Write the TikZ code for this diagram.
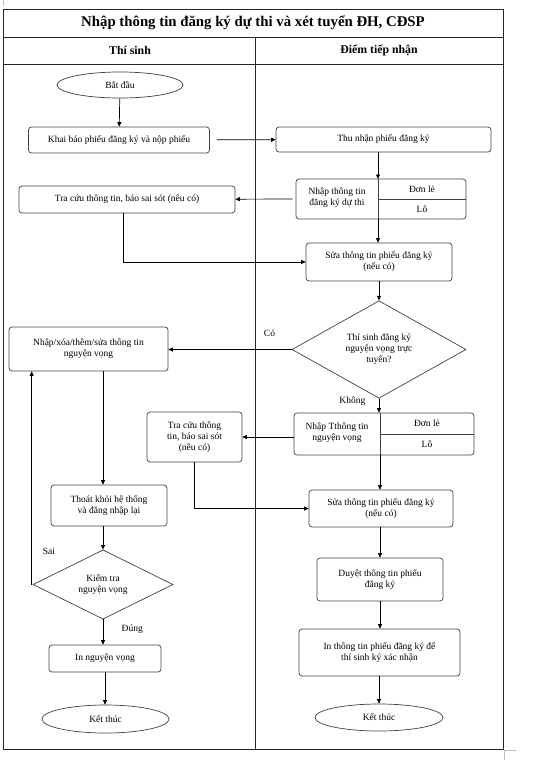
\documentclass[tikz,border=0pt]{standalone}
\usepackage{fontspec}
\setmainfont{Liberation Serif}
\usetikzlibrary{arrows.meta,shapes.geometric}

\begin{document}
\begin{tikzpicture}[x=1pt,y=-1pt]

    \tikzset{
      box/.style={
        draw=black!75,
        rounded corners=3pt,
        line width=0.7pt,
        align=center,
        inner sep=1pt,
        font=\fontsize{9.5}{11}\selectfont,
      },
      oval/.style={
        draw=black!75,
        ellipse,
        line width=0.7pt,
        inner sep=0pt,
        font=\fontsize{9.5}{11}\selectfont,
      },
      choice/.style={
        draw=black!75,
        diamond,
        line width=0.7pt,
        inner sep=0pt,
        align=center,
        font=\fontsize{9.5}{11}\selectfont,
      },
      flow/.style={
        line width=0.7pt,
        -{Triangle[length=4.5pt,width=4pt]},
      },
      tag/.style={
        font=\fontsize{9.5}{11}\selectfont,
      },
    }
    \useasboundingbox (0,0) rectangle (538,766);

    % frame and swimlanes
    \draw [line width=0.9pt,color=black!85] (3,9) rectangle (503,749);
    \draw [line width=0.9pt,color=black!85] (3,37)--(503,37);
    \draw [line width=0.9pt,color=black!85] (3,64)--(503,64);
    \draw [line width=0.9pt,color=black!85] (255,37)--(255,749);
    \draw [color=black!25,line width=0.8pt] (3,0)--(3,6);
    \draw [color=black!25,line width=0.8pt] (504,750)--(516,750) (504,750)--(504,760);
    \node (title) at (253,23) {\fontsize{14.8}{16}\selectfont\bfseries Nhập thông tin đăng ký dự thi và xét tuyển ĐH, CĐSP};
    \node (laneA) at (130,50.5) {\fontsize{11.8}{13}\selectfont\bfseries Thí sinh};
    \node (laneB) at (379,50.5) {\fontsize{11.8}{13}\selectfont\bfseries Điểm tiếp nhận};

    % thi sinh
    \node[oval,minimum width=126pt,minimum height=26pt] (start) at (120,85) {Bắt đầu};
    \node[box,minimum width=181pt,minimum height=26pt] (khai) at (119,140) {Khai báo phiếu đăng ký và nộp phiếu};
    \node[box,minimum width=216pt,minimum height=27pt] (tracuu1) at (127,199.5) {Tra cứu thông tin, báo sai sót (nêu có)};
    \node[box,minimum width=159pt,minimum height=44pt] (nhapxoa) at (88.5,349) {Nhập/xóa/thêm/sửa thông tin\\nguyện vọng};
    \node[box,minimum width=95pt,minimum height=50pt] (tracuu2) at (194.5,437) {Tra cứu thông\\tin, báo sai sót\\(nêu có)};
    \node[box,minimum width=116pt,minimum height=41pt] (thoat) at (109,505.5) {Thoát khỏi hệ thống\\và đăng nhập lại};
    \node[choice,minimum width=140pt,minimum height=57pt] (kiemtra) at (103,584.5) {Kiểm tra\\nguyện vọng};
    \node[box,minimum width=112pt,minimum height=27pt] (inNV) at (105,658.5) {In nguyện vọng};
    \node[oval,minimum width=127pt,minimum height=28pt] (end1) at (105.5,719) {Kết thúc};

    % diem tiep nhan
    \node[box,minimum width=215pt,minimum height=25pt] (thunhan) at (383.5,139.5) {Thu nhận phiếu đăng ký};
    \node[box,minimum width=170pt,minimum height=40pt] (nhap1) at (381,199) {};
    \coordinate (div1) at (378,179);
    \draw [color=black!75,line width=0.7pt] (div1)--(div1 |- nhap1.south) (div1 |- nhap1.center)--(nhap1.east);
    \node[tag,align=center] (nhap1L) at (337,198) {Nhập thông tin\\đăng ký dự thi};
    \node[tag] (nhap1a) at (422,189.5) {Đơn lẻ};
    \node[tag] (nhap1b) at (422,209.5) {Lô};
    \node[box,minimum width=146pt,minimum height=38pt] (sua1) at (379,262) {Sửa thông tin phiếu đăng ký\\(nếu có)};
    \node[choice,minimum width=174pt,minimum height=85pt] (tructuyen) at (379,349.5) {Thí sinh đăng ký\\nguyện vọng trực\\tuyến?};
    \node[box,minimum width=180pt,minimum height=42pt] (nhap2) at (384,434) {};
    \coordinate (div2) at (380,413);
    \draw [color=black!75,line width=0.7pt] (div2)--(div2 |- nhap2.south) (div2 |- nhap2.center)--(nhap2.east);
    \node[tag,align=center] (nhap2L) at (337,433) {Nhập Tthông tin\\nguyện vọng};
    \node[tag] (nhap2a) at (427,423.5) {Đơn lẻ};
    \node[tag] (nhap2b) at (427,444.5) {Lô};
    \node[box,minimum width=144pt,minimum height=37pt] (sua2) at (381,508.5) {Sửa thông tin phiếu đăng ký\\(nếu có)};
    \node[box,minimum width=126pt,minimum height=43pt] (duyet) at (380,579.5) {Duyệt thông tin phiếu\\đăng ký};
    \node[box,minimum width=161pt,minimum height=47pt] (inphieu) at (379.5,652.5) {In thông tin phiếu đăng ký để\\thí sinh ký xác nhận};
    \node[oval,minimum width=128pt,minimum height=27pt] (end2) at (379,717.5) {Kết thúc};

    % connectors
    \draw[flow] (start)--(khai);
    \draw[flow,shorten <=7pt] (khai)--(thunhan);
    \draw[flow] (thunhan.south -| div1)--(div1);
    \draw[flow,shorten <=3pt] (nhap1.west)--(tracuu1);
    \draw[flow] (div1 |- nhap1.south)--(sua1.north -| div1);
    \draw[flow] ([xshift=-4pt]tracuu1.south) |- (sua1.west);
    \draw[flow] (tructuyen.north |- sua1.south)--(tructuyen.north);
    \draw[flow] (tructuyen.west)--(nhapxoa.east |- tructuyen.west) node[tag,pos=0.18,above=9pt] (co) {Có};
    \draw[flow] (tructuyen.south)--(tructuyen.south |- nhap2.north) node[tag,pos=0.2,left=10pt] (khong) {Không};
    \draw[flow] (nhap2.west |- tracuu2.east)--(tracuu2.east);
    \draw[flow] (tracuu2.south) |- (sua2.west);
    \draw[flow] (div2 |- nhap2.south)--(sua2.north -| div2);
    \draw[flow] (sua2.south -| div2)--(duyet.north -| div2);
    \draw[flow] (duyet.south)--(inphieu.north -| duyet.south);
    \draw[flow] (inphieu.south -| end2.north)--(end2.north);
    \draw[flow] (kiemtra.north |- nhapxoa.south)--(kiemtra.north |- thoat.north);
    \draw[flow] (kiemtra.north |- thoat.south)--(kiemtra.north);
    \draw[flow] ([xshift=-1pt]kiemtra.west) -- ([xshift=-1pt]kiemtra.west |- nhapxoa.south);
    \node[tag] (sai) at (49,551) {Sai};
    \draw[flow] (kiemtra.south)--(kiemtra.south |- inNV.north) node[tag,pos=0.4,right=15pt] (dung) {Đúng};
    \draw[flow] (inNV.south)--(end1.north -| inNV.south);

\end{tikzpicture}
\end{document}
